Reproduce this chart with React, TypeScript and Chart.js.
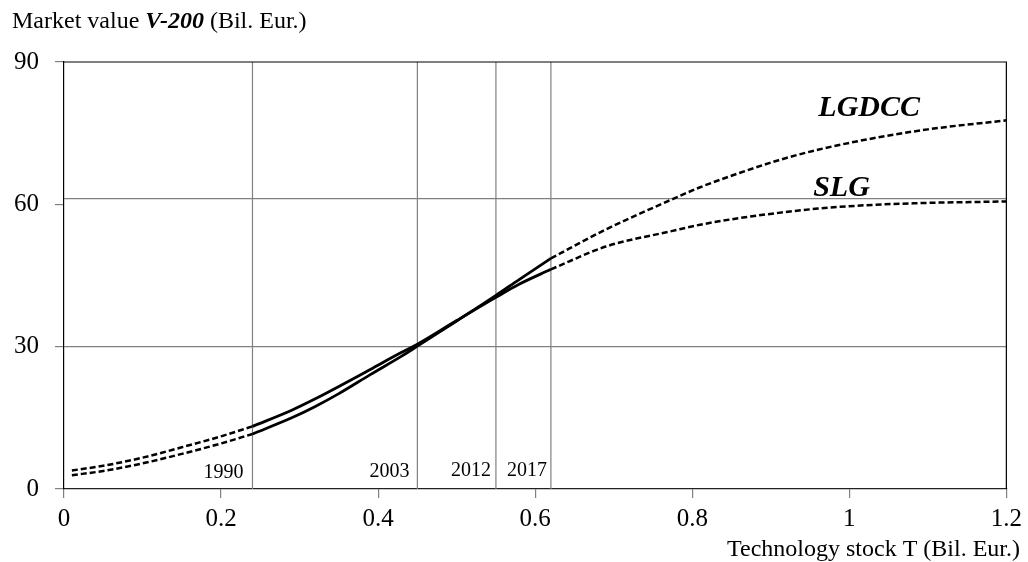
import React, { useEffect, useRef } from "react";
import { Chart, registerables } from "chart.js";

Chart.register(...registerables);

const FONT = "'Liberation Serif', 'Times New Roman', serif";

// Axis ticks
const xTicks = [0, 0.2, 0.4, 0.6, 0.8, 1, 1.2];
const yTicks = [0, 30, 60, 90];

// Reference lines
const yearLines = [0.24, 0.45, 0.55, 0.62];
const yearLabels = ["1990", "2003", "2012", "2017"];
const hLines = [30, 61.2];

// SLG curve (x: technology stock, y: market value)
const slgEarly = [
  [0.01, 3.9], [0.05, 4.9], [0.1, 6.6], [0.15, 8.8], [0.2, 11.1], [0.24, 13.2],
];
const slgObserved = [
  [0.24, 13.2], [0.29, 16.6], [0.32, 19.0], [0.35, 21.6], [0.39, 25.2], [0.43, 28.8],
  [0.45, 30.5], [0.5, 35.5], [0.55, 40.4], [0.58, 43.2], [0.62, 46.3],
];
const slgForecast = [
  [0.62, 46.3], [0.69, 51.1], [0.775, 54.4], [0.81, 55.7], [0.86, 57.1], [0.91, 58.2],
  [0.96, 59.1], [1.02, 59.8], [1.1, 60.3], [1.2, 60.6],
];

// LGDCC curve
const lgdccEarly = [
  [0.01, 2.9], [0.05, 3.8], [0.1, 5.4], [0.15, 7.4], [0.2, 9.6], [0.24, 11.6],
];
const lgdccObserved = [
  [0.24, 11.6], [0.29, 15.0], [0.32, 17.4], [0.35, 20.1], [0.39, 24.1], [0.43, 28.0],
  [0.45, 30.1], [0.5, 35.4], [0.55, 40.8], [0.58, 44.2], [0.62, 48.6],
];
const lgdccForecast = [
  [0.62, 48.6], [0.69, 54.7], [0.775, 61.1], [0.81, 63.6], [0.86, 66.6], [0.91, 69.3],
  [0.96, 71.5], [1.02, 73.6], [1.1, 75.8], [1.2, 77.7],
];

const toPts = (arr: number[][]) => arr.map(([x, y]) => ({ x, y }));

export default function App() {
  const ref = useRef<HTMLCanvasElement | null>(null);

  useEffect(() => {
    document.body.style.margin = "0";
    const canvas = ref.current;
    if (!canvas) return;

    const refStyle = {
      borderColor: "#808080",
      borderWidth: 1.2,
      pointRadius: 0,
      fill: false,
      tension: 0,
      order: 5,
    };
    const curveSolid = {
      borderColor: "#000",
      borderWidth: 2.8,
      pointRadius: 0,
      fill: false,
      cubicInterpolationMode: "monotone" as const,
      order: 1,
    };
    const curveDash = {
      ...curveSolid,
      borderWidth: 2.5,
      borderDash: [6, 3],
    };

    const datasets: any[] = [];
    hLines.forEach((v) =>
      datasets.push({ ...refStyle, data: [{ x: 0, y: v }, { x: 1.2, y: v }] })
    );
    yearLines.forEach((v) =>
      datasets.push({ ...refStyle, data: [{ x: v, y: 0 }, { x: v, y: 90 }] })
    );
    datasets.push({ ...curveDash, label: "SLG early", data: toPts(slgEarly) });
    datasets.push({ ...curveSolid, label: "SLG", data: toPts(slgObserved) });
    datasets.push({ ...curveDash, label: "SLG forecast", data: toPts(slgForecast) });
    datasets.push({ ...curveDash, label: "LGDCC early", data: toPts(lgdccEarly) });
    datasets.push({ ...curveSolid, label: "LGDCC", data: toPts(lgdccObserved) });
    datasets.push({ ...curveDash, label: "LGDCC forecast", data: toPts(lgdccForecast) });

    const textPlugin = {
      id: "texts",
      afterDraw(chart: any) {
        const ctx = chart.ctx as CanvasRenderingContext2D;
        const { chartArea } = chart;
        const xs = chart.scales.x;
        const ys = chart.scales.y;
        ctx.save();
        // frame top and right
        ctx.strokeStyle = "#000";
        ctx.lineWidth = 1.2;
        ctx.beginPath();
        ctx.moveTo(chartArea.left, chartArea.top);
        ctx.lineTo(chartArea.right, chartArea.top);
        ctx.lineTo(chartArea.right, chartArea.bottom);
        ctx.stroke();

        ctx.fillStyle = "#000";
        ctx.textBaseline = "alphabetic";
        // y-axis title
        let x = 12;
        const ty = 28;
        ctx.textAlign = "left";
        ctx.font = `24px ${FONT}`;
        const p1 = "Market value ";
        ctx.fillText(p1, x, ty);
        x += ctx.measureText(p1).width;
        ctx.font = `italic bold 24px ${FONT}`;
        const p2 = "V-200";
        ctx.fillText(p2, x, ty);
        x += ctx.measureText(p2).width;
        ctx.font = `24px ${FONT}`;
        ctx.fillText(" (Bil. Eur.)", x, ty);

        // x-axis title
        ctx.textAlign = "right";
        ctx.fillText("Technology stock T (Bil. Eur.)", 1020, 556);

        // year labels
        ctx.font = `20px ${FONT}`;
        ctx.textAlign = "right";
        const offs = [9, 8, 5, 4];
        const base = [478, 477, 476, 476];
        yearLines.forEach((v, i) => {
          ctx.fillText(yearLabels[i], xs.getPixelForValue(v) - offs[i], base[i]);
        });

        // curve labels
        ctx.font = `italic bold 30px ${FONT}`;
        ctx.textAlign = "left";
        ctx.fillText("LGDCC", xs.getPixelForValue(0.9606), ys.getPixelForValue(78.7));
        ctx.fillText("SLG", xs.getPixelForValue(0.954), ys.getPixelForValue(61.8));
        ctx.restore();
      },
    };

    const chart = new Chart(canvas, {
      type: "line",
      data: { datasets },
      options: {
        animation: false,
        responsive: false,
        maintainAspectRatio: false,
        layout: { padding: { left: 0, right: 21, top: 62, bottom: 0 } },
        plugins: {
          legend: { display: false },
          tooltip: { enabled: false },
          title: { display: false },
        },
        scales: {
          x: {
            type: "linear",
            min: 0,
            max: 1.2,
            afterBuildTicks: (s: any) => {
              s.ticks = xTicks.map((v) => ({ value: v }));
            },
            afterFit: (s: any) => {
              s.height = 73;
            },
            ticks: {
              color: "#000",
              font: { family: FONT, size: 25 },
              padding: 6,
              maxRotation: 0,
              autoSkip: false,
              callback: (v: any) => String(v),
            },
            grid: {
              drawOnChartArea: false,
              drawTicks: true,
              tickLength: 9,
              color: "#808080",
              lineWidth: 1.2,
            },
            border: { display: true, color: "#222", width: 1.2 },
          },
          y: {
            type: "linear",
            min: 0,
            max: 90,
            afterBuildTicks: (s: any) => {
              s.ticks = yTicks.map((v) => ({ value: v }));
            },
            afterFit: (s: any) => {
              s.width = 64;
            },
            ticks: {
              color: "#000",
              font: { family: FONT, size: 25 },
              padding: 16,
              autoSkip: false,
              callback: (v: any) => String(v),
            },
            grid: {
              drawOnChartArea: false,
              drawTicks: true,
              tickLength: 9,
              color: "#808080",
              lineWidth: 1.2,
            },
            border: { display: true, color: "#000", width: 1.2 },
          },
        },
      },
      plugins: [textPlugin],
    });

    return () => chart.destroy();
  }, []);

  return (
    <div style={{ position: "absolute", left: 0, top: 0, width: 1028, height: 562, background: "#fff" }}>
      <canvas ref={ref} width={1028} height={562} style={{ display: "block" }} />
    </div>
  );
}
